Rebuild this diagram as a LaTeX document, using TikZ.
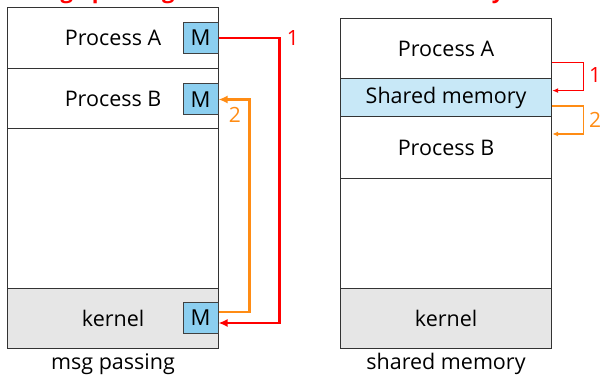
\documentclass[tikz,border=0pt]{standalone}
\usepackage{fontspec}
\setmainfont{Open Sans}
\usetikzlibrary{calc,arrows.meta}

\newlength{\du}
\setlength{\du}{1pt}

\definecolor{mfill}{RGB}{140,207,240}
\definecolor{shmfill}{RGB}{200,232,247}
\definecolor{kernfill}{RGB}{230,230,230}
\definecolor{msgred}{RGB}{255,0,0}
\definecolor{msgorange}{RGB}{255,140,20}

\tikzset{
  rowbox/.style={draw=black!80, line width=1.2pt, minimum width=211\du, inner sep=0pt,
    anchor=north west, font=\fontsize{21.5}{24}\selectfont},
  mbox/.style={draw=black!75, line width=1pt, fill=mfill, minimum width=35\du,
    minimum height=31\du, inner sep=0pt, font=\fontsize{22}{24}\selectfont},
  bigarrow/.style={line width=2.4pt, -{Latex[length=9pt,width=8pt]}},
  smallarrow/.style={line width=1.3pt, -{Latex[length=6pt,width=5pt]}},
  numlabel/.style={font=\fontsize{21}{24}\selectfont},
  caption/.style={font=\fontsize{21.5}{24}\selectfont},
}

\begin{document}
\begin{tikzpicture}
\pgftransformxscale{1.000000}
\pgftransformyscale{-1.000000}
\useasboundingbox (0\du,0\du) rectangle (603\du,377\du);

% titles, cut off by the page edge
\node[anchor=base east, text=msgred, font=\bfseries\fontsize{22}{24}\selectfont] (ttlmsg) at (178\du,-1\du) {Message passing};
\node[anchor=base east, text=msgred, font=\bfseries\fontsize{22}{24}\selectfont] (ttlshm) at (508\du,-1\du) {Shared memory};

% msg passing
\node[rowbox, minimum height=61\du] (lA) at (7\du,7\du) {Process A};
\node[rowbox, minimum height=60\du] (lB) at (7\du,68\du) {Process B};
\node[rowbox, minimum height=160\du] (lfree) at (7\du,128\du) {};
\node[rowbox, minimum height=60\du, fill=kernfill] (lK) at (7\du,288\du) {kernel};
\node[mbox] (mA) at (200.5\du,38\du) {M};
\node[mbox] (mB) at (200.5\du,99.5\du) {M};
\node[mbox] (mK) at (200.5\du,318\du) {M};

\draw[bigarrow, msgred] (mA.east) -- ++(61pt,0pt) |- ($(mK.east)+(0pt,5pt)$);
\draw[bigarrow, msgorange] ($(mK.east)+(0pt,-6pt)$) -- ++(31pt,0pt) |- (mB.east);
\node[numlabel, text=msgred] (n1l) at (293\du,38\du) {1};
\node[numlabel, text=msgorange] (n2l) at (235\du,115\du) {2};

% shared memory
\node[rowbox, minimum height=60\du] (rA) at (340\du,18\du) {Process A};
\node[rowbox, minimum height=38\du, fill=shmfill] (rshm) at (340\du,78\du) {Shared memory};
\node[rowbox, minimum height=62\du] (rB) at (340\du,116\du) {Process B};
\node[rowbox, minimum height=110\du] (rfree) at (340\du,178\du) {};
\node[rowbox, minimum height=60\du, fill=kernfill] (rK) at (340\du,288\du) {kernel};

\draw[smallarrow, msgred] ($(rA.south east)+(0pt,-17pt)$) -- ++(31pt,0pt) |- ($(rshm.east)+(0pt,-7pt)$);
\draw[smallarrow, msgorange] ($(rshm.east)+(0pt,8.5pt)$) -- ++(31pt,0pt) |- ($(rB.north east)+(0pt,18pt)$);
\node[numlabel, text=msgred] (n1r) at (595\du,75\du) {1};
\node[numlabel, text=msgorange] (n2r) at (595\du,120\du) {2};

\node[caption] (capl) at (113\du,364\du) {msg passing};
\node[caption] (capr) at (446\du,364\du) {shared memory};
\end{tikzpicture}
\end{document}
